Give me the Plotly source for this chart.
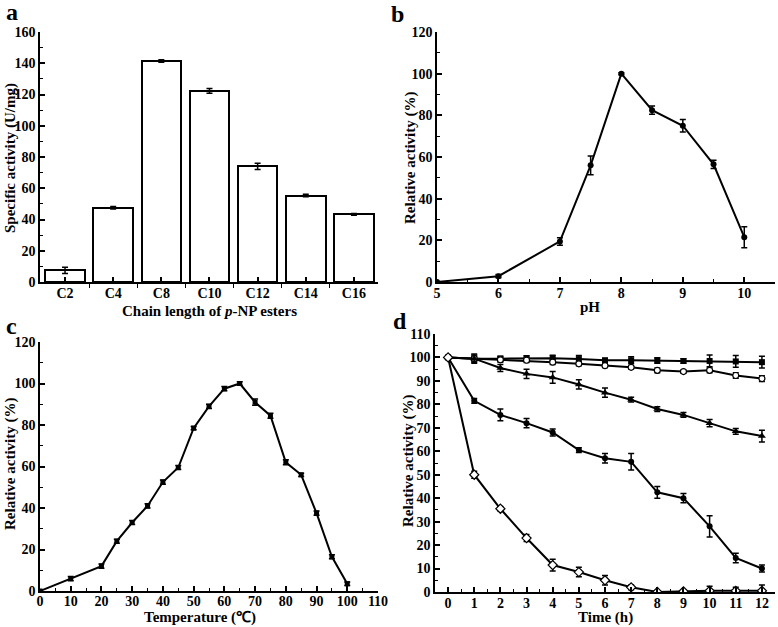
import plotly.graph_objects as go

W, H = 778, 627
FONT = "Liberation Serif"

# ---------- data ----------
chain_labels = ["C2", "C4", "C8", "C10", "C12", "C14", "C16"]
chain_activity = [7.5, 47.5, 141.5, 122.3, 74.0, 55.3, 43.3]
chain_err = [2.0, 0.8, 0.8, 1.5, 2.0, 0.8, 0.5]

ph_values = [5, 6, 7, 7.5, 8, 8.5, 9, 9.5, 10]
ph_activity = [0, 2.8, 19.5, 56, 100, 82.5, 75, 56.5, 21.5]
ph_err = [0, 0.8, 1.8, 4.5, 0.5, 2.0, 3.0, 2.0, 5.0]

temp_values = [0, 10, 20, 25, 30, 35, 40, 45, 50, 55, 60, 65, 70, 75, 80, 85, 90, 95, 100]
temp_activity = [0, 6, 12, 24, 33, 41, 52.5, 59.5, 78.5, 89, 97.5, 100, 91, 84.5, 62, 56, 37.5, 16.5, 3.5]
temp_err = [0, 1, 1, 1, 1, 1, 1, 1, 0.8, 1, 1, 0.8, 1.5, 1.2, 1.2, 0.8, 1, 1, 0.8]

time_h = [0, 1, 2, 3, 4, 5, 6, 7, 8, 9, 10, 11, 12]
stab_s1 = [100, 99.5, 99.5, 99.7, 99.7, 99.3, 98.8, 98.8, 98.7, 98.5, 98.5, 98.3, 98.0]
stab_s1_err = [0.5, 2, 1, 1, 1.2, 1.5, 0.8, 1.5, 1.2, 1, 2.5, 2.5, 2.5]
stab_s2 = [100, 99.5, 99.0, 98.8, 98.0, 97.3, 96.5, 95.8, 94.5, 94.0, 94.5, 92.3, 91.0]
stab_s2_err = [0.5, 1, 1, 1, 1, 0.8, 0.8, 0.7, 1, 0.7, 1, 1.2, 1.2]
stab_s3 = [100, 99.5, 95.5, 93.0, 91.5, 88.5, 85.0, 82.0, 78.0, 75.5, 72.0, 68.5, 66.5]
stab_s3_err = [0.5, 1.5, 1.5, 2, 2.5, 2, 2, 1, 1, 1, 1.5, 1.2, 2.5]
stab_s4 = [100, 81.5, 75.5, 72.0, 68.0, 60.5, 57.0, 55.5, 42.5, 40.0, 28.0, 14.5, 10.0]
stab_s4_err = [0.5, 1, 2.5, 2, 1.5, 1, 2, 3.5, 2.5, 2, 4.5, 2, 1.5]
stab_s5 = [100, 50, 35.5, 23.0, 11.5, 8.5, 5.0, 2.0, 0.0, 0.3, 0.5, 0.5, 0.5]
stab_s5_err = [0.5, 1.5, 1, 1.5, 2.5, 2, 2, 1, 0.3, 0.3, 2, 1.5, 2.5]

# ---------- helpers ----------
def fx(p):
    return p / W

def fy(p):
    return 1 - p / H

fig = go.Figure()

def err(arr):
    return dict(type="data", array=arr, visible=True, color="black", thickness=1.5, width=3)

# panel a
fig.add_trace(go.Bar(x=list(range(len(chain_labels))), y=chain_activity, width=0.82,
                     marker=dict(color="white", line=dict(color="black", width=2)),
                     error_y=err(chain_err), xaxis="x", yaxis="y", showlegend=False))
# panel b
fig.add_trace(go.Scatter(x=ph_values, y=ph_activity, mode="lines+markers",
                         line=dict(color="black", width=2),
                         marker=dict(symbol="circle", size=6, color="black"),
                         error_y=err(ph_err), xaxis="x2", yaxis="y2", showlegend=False))
# panel c
fig.add_trace(go.Scatter(x=temp_values, y=temp_activity, mode="lines+markers",
                         line=dict(color="black", width=2),
                         marker=dict(symbol="square", size=5, color="black"),
                         error_y=err(temp_err), xaxis="x3", yaxis="y3", showlegend=False))
# panel d
series_d = [
    (stab_s1, stab_s1_err, dict(symbol="square", size=6, color="black")),
    (stab_s2, stab_s2_err, dict(symbol="circle", size=6, color="white", line=dict(color="black", width=1.2))),
    (stab_s3, stab_s3_err, dict(symbol="triangle-up", size=7, color="black")),
    (stab_s4, stab_s4_err, dict(symbol="circle", size=6, color="black")),
    (stab_s5, stab_s5_err, dict(symbol="diamond", size=7, color="white", line=dict(color="black", width=1.2))),
]
for yv, ev, mk in series_d:
    fig.add_trace(go.Scatter(x=time_h, y=yv, mode="lines+markers",
                             line=dict(color="black", width=2), marker=mk,
                             error_y=err(ev), xaxis="x4", yaxis="y4", showlegend=False))

tickfont = dict(family=FONT, size=14, color="black", weight="bold")

def axis(domain, anchor, rng, dtick=None, minor_dtick=None, tick0=None, minor_tick0=None, **kw):
    d = dict(domain=domain, anchor=anchor, range=rng, showgrid=False, zeroline=False,
             automargin=False,
             showline=True, linecolor="black", linewidth=1.6, ticks="inside",
             ticklen=5, tickwidth=1.5, tickcolor="black", tickfont=tickfont, fixedrange=True)
    if dtick is not None:
        d["dtick"] = dtick
        d["tickmode"] = "linear"
        d["tick0"] = tick0 if tick0 is not None else 0
    if minor_dtick is not None:
        d["minor"] = dict(dtick=minor_dtick, tick0=minor_tick0 if minor_tick0 is not None else 0,
                          ticks="inside", ticklen=3, tickwidth=1.2, tickcolor="black", showgrid=False)
    d.update(kw)
    return d

layout = dict(
    template="none",
    width=W, height=H, margin=dict(l=0, r=0, t=0, b=0, pad=0, autoexpand=False),
    plot_bgcolor="white", paper_bgcolor="white", bargap=0,
    font=dict(family=FONT, color="black"),
    xaxis=axis([fx(40), fx(378)], "y", [-0.52, 6.5], tickmode="array",
               tickvals=list(range(len(chain_labels))), ticktext=chain_labels,
               ticklabelstandoff=-3,
               minor=dict(tickmode="linear", tick0=-0.5, dtick=1, ticks="outside",
                          ticklen=4, tickwidth=1.2, tickcolor="black")),
    yaxis=axis([fy(282), fy(32)], "x", [0, 160], dtick=20, minor_dtick=10),
    xaxis2=axis([fx(437), fx(775)], "y2", [5, 10.5], dtick=1, tick0=5, minor_dtick=0.5, minor_tick0=5,
                ticklabelstandoff=-3),
    yaxis2=axis([fy(282), fy(32)], "x2", [0, 120], dtick=20, minor_dtick=10),
    xaxis3=axis([fx(40), fx(378)], "y3", [0, 110], dtick=10, minor_dtick=5, ticklabelstandoff=-4),
    yaxis3=axis([fy(591), fy(342)], "x3", [0, 120], dtick=20, minor_dtick=10),
    xaxis4=axis([fx(435), fx(775)], "y4", [-0.5, 12.5], dtick=1, minor_dtick=0.5, minor_tick0=0.5,
                ticklabelstandoff=-3),
    yaxis4=axis([fy(592), fy(334)], "x4", [0, 110], dtick=10, minor_dtick=5),
)
fig.update_layout(**layout)

def ann(text, x, y, size=15, angle=0):
    fig.add_annotation(text=text, x=fx(x), y=fy(y), xref="paper", yref="paper",
                       showarrow=False, textangle=angle, xanchor="center", yanchor="middle",
                       font=dict(family=FONT, size=size, color="black"))

# panel letters
ann("<b>a</b>", 12, 12, size=24)
ann("<b>b</b>", 397, 14, size=24)
ann("<b>c</b>", 11, 326, size=24)
ann("<b>d</b>", 400, 321, size=24)

# axis titles
ann("<b>Chain length of <i>p</i>-NP esters</b>", 209, 311)
ann("<b>pH</b>", 590, 307)
ann("<b>Temperature (℃)</b>", 200, 617)
ann("<b>Time (h)</b>", 605, 617)
ann("<b>Specific activity (U/mg)</b>", 10, 158, angle=-90)
ann("<b>Relative activity (%)</b>", 410, 158, angle=-90)
ann("<b>Relative activity (%)</b>", 10, 464, angle=-90)
ann("<b>Relative activity (%)</b>", 408, 461, angle=-90)

fig.write_html("out.html", config={"displayModeBar": False},
               post_script="document.body.style.margin='0';")
